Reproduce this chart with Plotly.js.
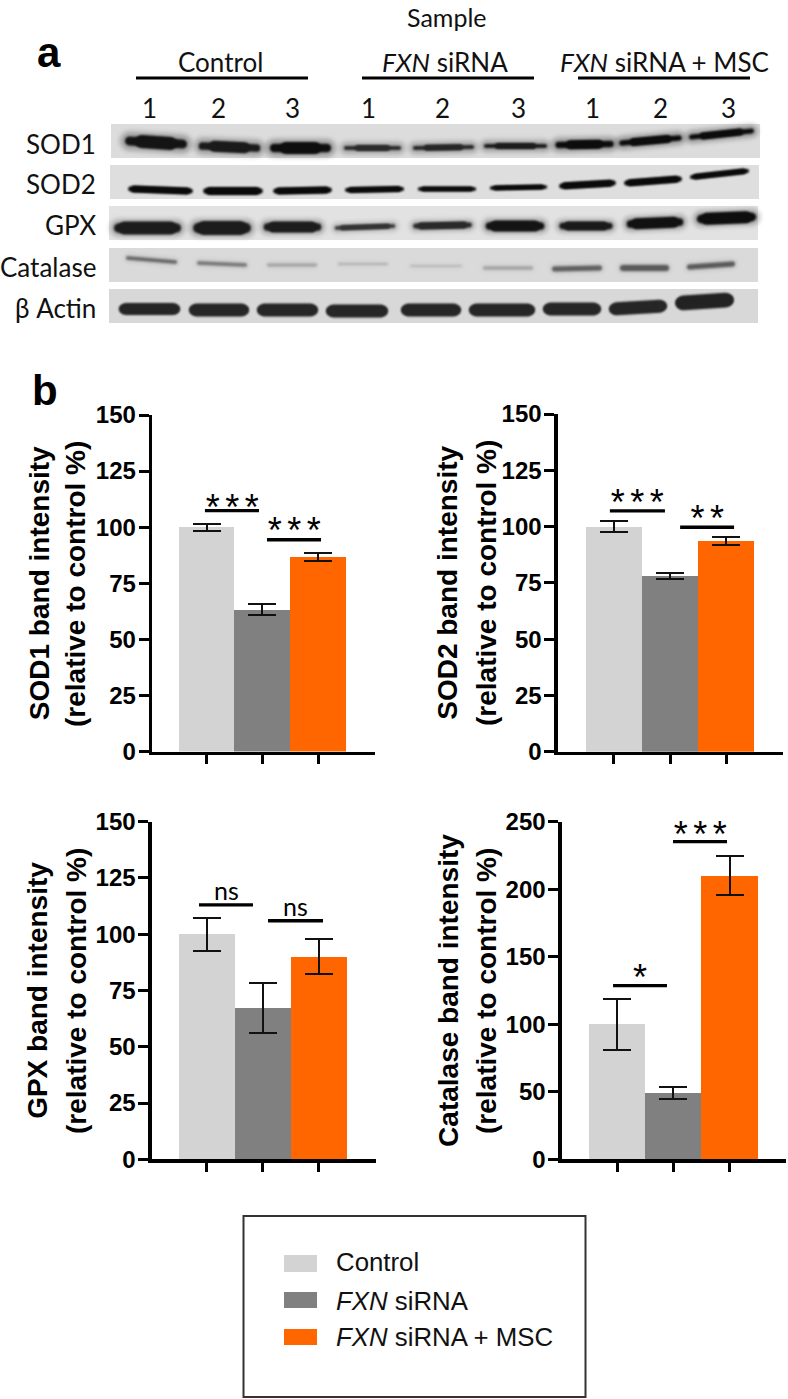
<!DOCTYPE html>
<html><head><meta charset="utf-8">
<script src="https://cdn.plot.ly/plotly-3.0.1.min.js"></script>
<style>
html,body{margin:0;padding:0;background:#fff}
#p .js-line{stroke-linecap:round;filter:blur(0.8px)}
#p g.trace[style*="opacity: 0.3"] .js-line{filter:blur(2.5px)}
#p text[data-unformatted="***"],#p text[data-unformatted="**"]{letter-spacing:5.5px}
</style></head><body><div id="p" style="width:788px;height:1399px"></div>
<script>
const groups=['Control','FXN siRNA','FXN siRNA + MSC'];
const colors=['#d3d3d3','#808080','#ff6600'];
const proteins=['SOD1','SOD2','GPX','Catalase','β Actin'];
const sod1Vals=[100,63.3,86.7], sod1Err=[1.5,2.3,2];
const sod2Vals=[100,78,93.5], sod2Err=[2.35,1.4,1.65];
const gpxVals=[100,67.3,90], gpxErr=[7.4,11,7.8];
const catVals=[100,49,210], catErr=[19,4.7,14.5];
const sigLabels=[['***','***'],['***','**'],['ns','ns'],['*','***']];

// Western blot band estimates: one entry per lane (left, right, y left, y right, thickness, shade)
const laneNumbers=['1','2','3','1','2','3','1','2','3'];
const blotSod1=[[123,189,141,144,13,'#141414'],[197,262,146,148,11,'#1a1a1a'],[268,333,148,148,12,'#0e0e0e'],[343,402,148,148,6,'#2a2a2a'],[412,475,148,147,6,'#262626'],[483,548,146,146,6,'#1c1c1c'],[554,615,145,144,9,'#0c0c0c'],[618,683,143,138,8,'#0c0c0c'],[688,755,137,131,7,'#0c0c0c']];
const blotSod2=[[127,194,189,191,7,'#0a0a0a'],[202,264,191,191,8,'#0a0a0a'],[272,333,191,190,7,'#0a0a0a'],[344,405,190,189,6,'#0a0a0a'],[417,477,189,189,5,'#0a0a0a'],[489,548,188,187,5,'#0a0a0a'],[558,617,186,183,7,'#0a0a0a'],[623,683,183,179,7,'#0a0a0a'],[689,750,177,171,6,'#0a0a0a']];
const blotGpx=[[112,183,228,228,13,'#1c1c1c'],[191,253,228,228,14,'#1c1c1c'],[262,323,227,227,11,'#1c1c1c'],[334,396,228,226,5,'#333'],[412,473,226,225,7,'#2a2a2a'],[484,546,226,226,11,'#141414'],[558,614,226,226,9,'#1a1a1a'],[625,685,224,222,11,'#111'],[695,758,219,217,12,'#0e0e0e']];
const blotCat=[[126,177,258,262,3.5,'#666'],[197,247,263,265,3.5,'#777'],[267,317,265,265,3,'#a2a2a2'],[338,388,264,264,2,'#b0b0b0'],[410,462,266,266,2,'#b8b8b8'],[483,533,268,268,3,'#a0a0a0'],[552,602,269,268,5,'#606060'],[620,669,268,268,6,'#5a5a5a'],[687,735,267,264,5,'#5a5a5a']];
const blotActin=[[117,182,309,309,12,'#262626'],[187,251,310,310,13,'#262626'],[255,320,310,310,13,'#262626'],[324,390,311,311,13,'#262626'],[399,463,310,310,13,'#262626'],[467,537,310,310,13,'#262626'],[541,603,309,309,13,'#262626'],[607,669,309,306,13,'#262626'],[673,736,303,300,15,'#222']];

const W=788,H=1399;
const dx=(a,b)=>[a/W,b/W], dy=(top,bot)=>[1-bot/H,1-top/H];
const fontBold='"Liberation Sans",Arial,sans-serif';
const fontBlot='Lato,sans-serif';

const charts=[
 {vals:sod1Vals,err:sod1Err,name:'SOD1',axL:152,axR:375,c0:206.6,step:55.7,top:415,bot:751.5,ymax:150,dtick:25,line2:[75,584],standoff:39,
  br:[[-0.03,0.94,107.4,9.5],[1.084,2.054,94.4,15]]},
 {vals:sod2Vals,err:sod2Err,name:'SOD2',axL:557.7,axR:783,c0:613.8,step:56.2,top:414,bot:751.7,ymax:150,dtick:25,line2:[486,583],standoff:36,
  br:[[-0.07,0.91,107,14],[1.18,2.14,99.7,14.3]]},
 {vals:gpxVals,err:gpxErr,name:'GPX',axL:151.7,axR:376,c0:206.7,step:56.1,top:821.7,bot:1159.3,ymax:150,dtick:25,line2:[76,991],standoff:40,
  br:[[-0.137,0.825,113,14],[1.093,2.073,106,14]]},
 {vals:catVals,err:catErr,name:'Catalase',axL:561.7,axR:786,c0:617,step:56.3,top:821.7,bot:1159.3,ymax:250,dtick:50,line2:[486,991],standoff:39,
  br:[[-0.07,0.888,128.6,14],[0.995,1.954,235.2,12.7]]}
];
const traces=[];
const layout={width:W,height:H,margin:{l:0,r:0,t:0,b:0},paper_bgcolor:'#fff',plot_bgcolor:'rgba(0,0,0,0)',showlegend:false,shapes:[],annotations:[],bargap:0,
 xaxis5:{domain:[0,1],range:[0,W],visible:false,anchor:'y5',fixedrange:true},
 yaxis5:{domain:[0,1],range:[H,0],visible:false,anchor:'x5',fixedrange:true}};
const txt=(text,x,y,size,opt={})=>layout.annotations.push(Object.assign({text,x,y,xref:'x5',yref:'y5',showarrow:false,font:{size,color:'#111',family:fontBlot},xanchor:'center',yanchor:'middle'},opt));
const rect=(x0,x1,y0,y1,fill,extra={})=>layout.shapes.push(Object.assign({type:'rect',xref:'x5',yref:'y5',x0,x1,y0,y1,fillcolor:fill,line:{width:0},layer:'below'},extra));

// Blot panels: left, right, top, bottom, background, bands, end taper, halo
const panels=[[111,760,124,158,'#dcdcdc',blotSod1,12,3],[110,759,165,199,'#dedede',blotSod2,4,0],[109,758,206,240,'#e2e2e2',blotGpx,6,2],[109,758,248,282,'#dadada',blotCat,0,1],[109,758,289,323,'#d8d8d8',blotActin,3,0]];
const rowY=[144,184,225,267,308];
const bandLine=(x,y,w,color,op)=>traces.push({type:'scatter',mode:'lines',x,y,xaxis:'x5',yaxis:'y5',opacity:op,line:{color,width:w},hoverinfo:'skip'});
panels.forEach((p,i)=>{
 rect(p[0],p[1],p[2],p[3],p[4]);
 txt(proteins[i],98,rowY[i],26,{xanchor:'right'});
 p[5].forEach(b=>{
  const [l,r,yl,yr,th,col]=b, t=p[6], h=p[7];
  const edge=l+th/2, edgeR=r-th/2;
  if(h) bandLine([edge,edgeR],[yl,yr],th+h*2,col,0.3);
  if(t){
   bandLine([edge,edgeR],[yl,yr],th*0.7,col,1);
   const f=t/(r-l);
   bandLine([edge+t,edgeR-t],[yl+(yr-yl)*f,yr-(yr-yl)*f],th,col,1);
  } else bandLine([edge,edgeR],[yl,yr],th,col,1);
 });
});
const laneX=[149,218,292,368,442,518,592,660,728];
laneNumbers.forEach((n,i)=>txt(n,laneX[i],108,26));
txt('Sample',447,16.5,25);
txt('a',49,52,42,{font:{size:42,color:'#000',family:fontBold,weight:700}});
txt('b',45,390,42,{font:{size:42,color:'#000',family:fontBold,weight:700}});
[[groups[0],220,62,136,308],['<i>FXN</i> siRNA',445,62,362,534],['<i>FXN</i> siRNA + MSC',664,62,578,750]].forEach(g=>{
 txt(g[0],g[1],g[2],26);
 layout.shapes.push({type:'line',xref:'x5',yref:'y5',x0:g[3],x1:g[4],y0:78,y1:78,line:{color:'#000',width:3}});
});

// Bar charts
charts.forEach((c,i)=>{
 const n=i+1, xa=n===1?'x':'x'+n, ya=n===1?'y':'y'+n;
 traces.push({type:'bar',x:groups,y:c.vals,xaxis:xa,yaxis:ya,width:1,marker:{color:colors,line:{width:0}},
  error_y:{type:'data',array:c.err,visible:true,color:'#111',thickness:2,width:14},hoverinfo:'skip'});
 layout['xaxis'+(n===1?'':n)]={domain:dx(c.axL,c.axR),anchor:ya,type:'category',categoryorder:'array',categoryarray:groups,
   range:[(c.axL-c.c0)/c.step,(c.axR-c.c0)/c.step],showgrid:false,zeroline:false,showline:true,linecolor:'#000',linewidth:3.3,
   ticks:'outside',ticklen:9,tickwidth:3,tickcolor:'#000',showticklabels:false,fixedrange:true};
 layout['yaxis'+(n===1?'':n)]={domain:dy(c.top,c.bot),anchor:xa,range:[0,c.ymax],dtick:c.dtick,tick0:0,showgrid:false,zeroline:false,showline:true,linecolor:'#000',linewidth:3.3,
   ticks:'outside',ticklen:10,tickwidth:3,tickcolor:'#000',ticklabelstandoff:-2,tickfont:{family:fontBold,size:24,color:'#000',weight:700},fixedrange:true,
   title:{text:c.name+' band intensity',font:{family:fontBold,size:28,color:'#000',weight:700},standoff:c.standoff}};
 txt('(relative to control %)',c.line2[0],c.line2[1],28,{textangle:-90,font:{family:fontBold,size:28,color:'#000',weight:700}});
 c.br.forEach((b,j)=>{
  layout.shapes.push({type:'line',xref:xa,yref:ya,x0:b[0],x1:b[1],y0:b[2],y1:b[2],line:{color:'#000',width:3.3}});
  const lab=sigLabels[i][j], isNs=lab==='ns';
  layout.annotations.push({text:lab,xref:xa,yref:ya,x:(b[0]+b[1])/2,y:b[2],showarrow:false,xanchor:'center',yanchor:'middle',
    yshift:isNs?b[3]+1:b[3]-6,xshift:(!isNs&&lab.length>1)?2.75:0,font:{family:isNs?fontBlot:fontBold,size:isNs?25:36,color:'#000'}});
 });
});

// Legend
rect(243.5,585.5,1216,1397,'rgba(0,0,0,0)',{line:{color:'#333',width:2}});
const legY=[[1255,1272,1262],[1292,1308,1300.5],[1329,1345,1337]];
const legText=['Control','<i>FXN</i> siRNA','<i>FXN</i> siRNA + MSC'];
legY.forEach((l,i)=>{
 rect(284,317,l[0],l[1],colors[i]);
 txt(legText[i],334,l[2],25.8,{xanchor:'left',font:{size:25.8,color:'#111',family:fontBold}});
});
Plotly.newPlot('p',traces,layout,{staticPlot:true,displayModeBar:false});
</script></body></html>
